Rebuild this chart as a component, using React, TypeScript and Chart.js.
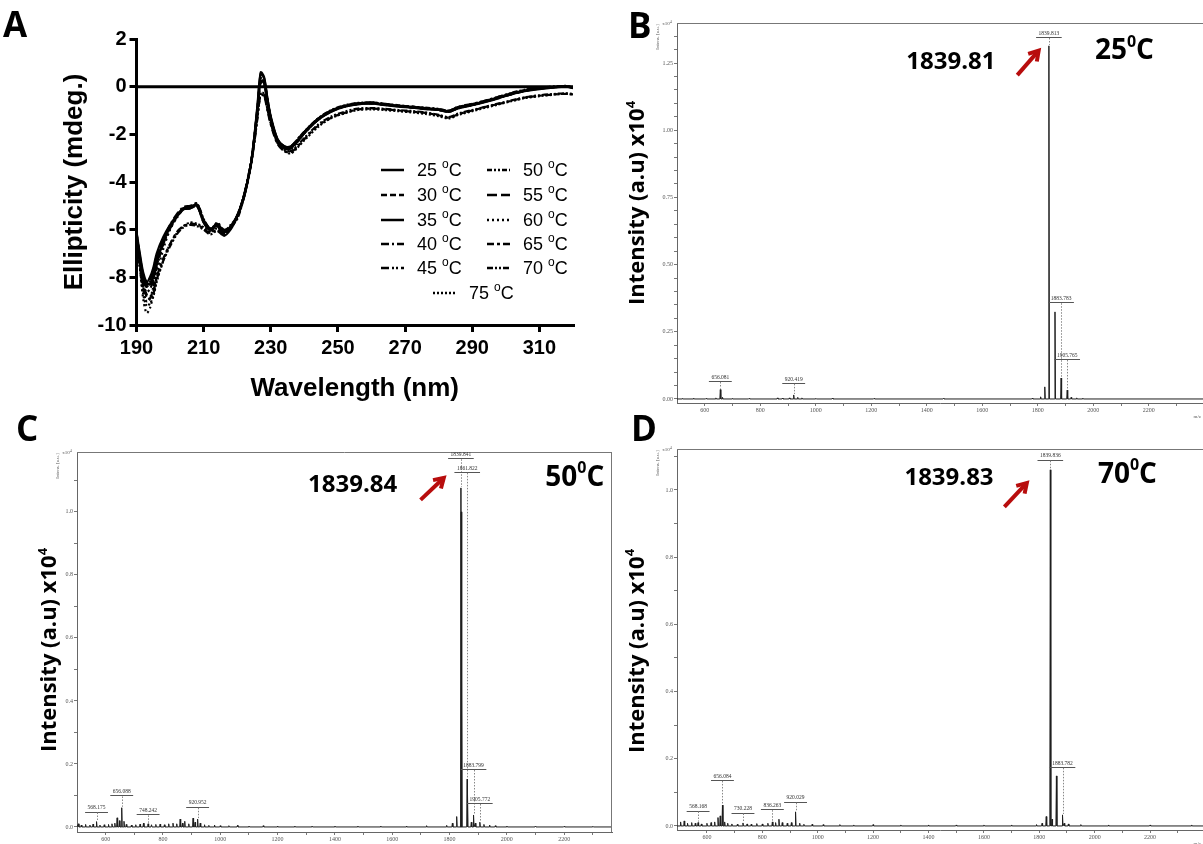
import React, { useEffect, useRef } from 'react';
import { Chart, registerables } from 'chart.js';

Chart.register(...registerables);

// ================= Panel A : CD spectra =================
const WAVELENGTH = [190,191,192,193,194,195,196,198,200,202,204,206,208,210,212,214,216,218,220,222,224,225,226,227,228,229,230,232,234,236,238,240,244,248,252,256,260,264,268,272,276,280,283,286,290,294,298,302,306,310,314,318,320];
const CD_TEMPS = ['25','30','35','40','45','50','55','60','65','70','75'];
const CD_25 = [-6.2,-7.1,-7.9,-8.2,-8.0,-7.6,-7.0,-6.3,-5.8,-5.4,-5.1,-5.1,-5.0,-5.7,-6.0,-5.8,-6.1,-5.9,-5.4,-4.6,-3.3,-2.2,-0.8,0.6,0.4,-0.5,-1.3,-2.2,-2.5,-2.5,-2.25,-1.9,-1.35,-1.0,-0.82,-0.7,-0.68,-0.76,-0.8,-0.86,-0.9,-0.95,-1.02,-0.86,-0.74,-0.6,-0.44,-0.27,-0.15,-0.07,-0.02,0.0,-0.04];
const CD_30 = [-6.3,-7.2,-8.0,-8.3,-8.1,-7.7,-7.1,-6.4,-5.85,-5.45,-5.15,-5.1,-4.95,-5.65,-6.05,-5.75,-6.05,-5.9,-5.45,-4.6,-3.3,-2.3,-1.0,0.3,0.2,-0.6,-1.35,-2.25,-2.55,-2.5,-2.2,-1.9,-1.35,-1.02,-0.8,-0.72,-0.7,-0.74,-0.82,-0.84,-0.92,-0.97,-1.05,-0.88,-0.76,-0.62,-0.46,-0.3,-0.17,-0.08,-0.03,0.02,-0.05];
const CD_35 = [-6.1,-7.0,-7.8,-8.2,-8.3,-8.0,-7.4,-6.5,-5.9,-5.45,-5.1,-5.05,-4.95,-5.6,-5.95,-5.85,-6.25,-6.0,-5.45,-4.65,-3.35,-2.25,-0.9,0.55,0.35,-0.5,-1.25,-2.2,-2.5,-2.55,-2.3,-1.95,-1.4,-1.05,-0.84,-0.74,-0.7,-0.78,-0.84,-0.88,-0.94,-0.98,-1.06,-0.9,-0.78,-0.64,-0.48,-0.3,-0.18,-0.1,-0.04,0.0,-0.02];
const CD_40 = [-6.2,-7.2,-8.1,-8.4,-8.2,-7.8,-7.2,-6.4,-5.8,-5.35,-5.05,-5.0,-4.9,-5.6,-6.1,-5.7,-6.0,-5.85,-5.4,-4.55,-3.25,-2.2,-0.95,0.25,0.15,-0.6,-1.35,-2.3,-2.6,-2.55,-2.25,-1.92,-1.38,-1.0,-0.8,-0.7,-0.66,-0.72,-0.8,-0.84,-0.9,-0.96,-1.0,-0.84,-0.72,-0.58,-0.42,-0.26,-0.13,-0.06,0.0,0.02,-0.03];
const CD_45 = [-6.4,-7.4,-8.3,-8.6,-8.5,-8.1,-7.5,-6.6,-5.95,-5.5,-5.15,-5.1,-5.0,-5.65,-6.0,-5.8,-6.15,-5.95,-5.45,-4.6,-3.3,-2.3,-1.05,0.2,0.1,-0.65,-1.4,-2.3,-2.6,-2.6,-2.3,-1.95,-1.4,-1.04,-0.84,-0.73,-0.7,-0.76,-0.82,-0.88,-0.92,-0.98,-1.04,-0.9,-0.77,-0.62,-0.47,-0.3,-0.16,-0.08,-0.03,0.0,-0.06];
const CD_50 = [-6.0,-7.3,-8.5,-9.0,-8.9,-8.4,-7.6,-6.6,-5.9,-5.4,-5.1,-5.05,-4.9,-5.55,-5.95,-5.75,-6.05,-5.9,-5.4,-4.6,-3.3,-2.25,-0.95,0.35,0.25,-0.55,-1.3,-2.25,-2.55,-2.5,-2.2,-1.88,-1.34,-0.98,-0.78,-0.68,-0.66,-0.72,-0.78,-0.84,-0.88,-0.93,-1.0,-0.84,-0.73,-0.58,-0.42,-0.25,-0.12,-0.05,0.0,0.03,-0.02];
const CD_55 = [-6.3,-7.3,-8.1,-8.4,-8.3,-7.9,-7.3,-6.5,-5.9,-5.45,-5.15,-5.1,-5.0,-5.7,-6.05,-5.8,-6.1,-5.9,-5.45,-4.6,-3.3,-2.3,-1.0,0.3,0.2,-0.6,-1.35,-2.25,-2.55,-2.55,-2.25,-1.9,-1.36,-1.02,-0.82,-0.72,-0.7,-0.76,-0.8,-0.86,-0.92,-0.96,-1.04,-0.88,-0.76,-0.62,-0.46,-0.29,-0.16,-0.08,-0.02,0.0,-0.04];
const CD_60 = [-6.0,-7.6,-8.9,-9.5,-9.3,-8.7,-7.9,-6.8,-6.0,-5.5,-5.15,-5.1,-5.0,-5.6,-6.0,-5.75,-6.1,-5.95,-5.45,-4.65,-3.35,-2.35,-1.1,0.15,0.05,-0.7,-1.4,-2.3,-2.6,-2.6,-2.3,-1.95,-1.4,-1.04,-0.82,-0.72,-0.7,-0.76,-0.82,-0.86,-0.92,-0.97,-1.05,-0.89,-0.77,-0.62,-0.46,-0.3,-0.16,-0.08,-0.02,0.0,-0.05];
const CD_65 = [-6.5,-7.4,-8.3,-8.7,-8.8,-8.6,-8.0,-7.2,-6.6,-6.1,-5.85,-5.75,-5.8,-5.95,-6.15,-6.0,-6.2,-5.85,-5.5,-4.6,-3.3,-2.4,-1.3,-0.35,-0.4,-1.0,-1.6,-2.4,-2.7,-2.75,-2.5,-2.2,-1.65,-1.3,-1.1,-0.95,-0.92,-0.95,-1.0,-1.05,-1.1,-1.2,-1.3,-1.15,-1.0,-0.85,-0.72,-0.58,-0.45,-0.38,-0.33,-0.3,-0.32];
const CD_70 = [-6.6,-7.5,-8.4,-8.8,-8.9,-8.7,-8.1,-7.3,-6.7,-6.2,-5.9,-5.8,-5.85,-6.0,-6.2,-6.05,-6.25,-5.9,-5.55,-4.65,-3.35,-2.45,-1.35,-0.3,-0.35,-0.95,-1.55,-2.35,-2.65,-2.7,-2.45,-2.15,-1.6,-1.25,-1.05,-0.92,-0.9,-0.93,-0.98,-1.02,-1.08,-1.18,-1.28,-1.12,-0.98,-0.84,-0.7,-0.56,-0.44,-0.36,-0.31,-0.28,-0.3];
const CD_75 = [-6.3,-7.6,-8.7,-9.2,-9.1,-8.8,-8.2,-7.3,-6.6,-6.15,-5.85,-5.7,-5.75,-5.9,-6.1,-5.95,-6.15,-5.8,-5.45,-4.55,-3.25,-2.35,-1.25,-0.25,-0.3,-0.9,-1.5,-2.35,-2.7,-2.8,-2.55,-2.25,-1.7,-1.32,-1.12,-0.98,-0.95,-0.98,-1.03,-1.08,-1.14,-1.24,-1.33,-1.18,-1.03,-0.88,-0.74,-0.6,-0.47,-0.4,-0.34,-0.3,-0.34];
const CD_SERIES = [CD_25, CD_30, CD_35, CD_40, CD_45, CD_50, CD_55, CD_60, CD_65, CD_70, CD_75];
const ZERO_X = [190, 320];
const ZERO_Y = [0, 0];
const A_X_TICKS = [190, 210, 230, 250, 270, 290, 310];
const A_Y_TICKS = [-10, -8, -6, -4, -2, 0, 2];

// line styles (not data)
const CD_DASH = [[], [6, 3], [], [8, 3, 2, 3], [8, 3, 2, 2, 2, 3], [5, 2, 2, 2, 2, 2], [10, 4], [2, 3], [7, 3, 3, 3], [6, 2, 2, 2, 2, 2], [2, 2]];
const CD_LEGEND_POS = [[381, 170], [381, 195], [381, 220], [381, 244], [381, 268], [487, 170], [487, 195], [487, 220], [487, 244], [487, 268], [433, 293]];

// ================= Mass spectra (B, C, D) =================
const MS_X_MAJOR = [600, 800, 1000, 1200, 1400, 1600, 1800, 2000, 2200];
const MS_X_MINOR = [700, 900, 1100, 1300, 1500, 1700, 1900, 2100, 2300];

const B_MZ = [520, 560, 605, 640, 656.1, 664, 700, 760, 862, 880, 905, 920.4, 935, 950, 1000, 1060, 1210, 1460, 1780, 1810, 1825, 1839.8, 1861.8, 1883.8, 1905.8, 1920, 1940, 1962];
const B_INT = [0.002, 0.003, 0.002, 0.004, 0.035, 0.006, 0.002, 0.002, 0.004, 0.003, 0.004, 0.015, 0.006, 0.004, 0.002, 0.003, 0.002, 0.002, 0.003, 0.008, 0.045, 1.314, 0.324, 0.078, 0.033, 0.006, 0.004, 0.003];
const B_Y_MAJOR = [0, 0.25, 0.5, 0.75, 1.0, 1.25];
const B_Y_MINOR = [0.05, 0.1, 0.15, 0.2, 0.3, 0.35, 0.4, 0.45, 0.55, 0.6, 0.65, 0.7, 0.8, 0.85, 0.9, 0.95, 1.05, 1.1, 1.15, 1.2, 1.3, 1.35];
const B_LABEL_TEXT = ['656.081', '920.419', '1839.813', '1883.783', '1905.765'];
const B_LABEL_MZ = [656.1, 920.4, 1839.8, 1883.8, 1905.8];
const B_LABEL_PEAK = [0.035, 0.015, 1.314, 0.078, 0.033];

const C_MZ = [505, 515, 530, 545, 556, 568.2, 580, 595, 610, 622, 632, 640, 648, 656.1, 664, 672, 690, 705, 720, 732, 748.2, 760, 775, 790, 805, 820, 835, 848, 860, 868, 876, 890, 905, 912, 920.9, 930, 945, 960, 980, 1000, 1030, 1060, 1100, 1150, 1200, 1260, 1320, 1400, 1480, 1560, 1650, 1720, 1790, 1810, 1825, 1839.8, 1840.8, 1841.8, 1861.8, 1862.8, 1876, 1883.8, 1890, 1905.8, 1920, 1940, 1960, 2000, 2100, 2200, 2300];
const C_INT = [0.010, 0.006, 0.008, 0.006, 0.009, 0.017, 0.006, 0.007, 0.008, 0.010, 0.012, 0.029, 0.020, 0.061, 0.018, 0.008, 0.006, 0.007, 0.009, 0.012, 0.010, 0.007, 0.008, 0.009, 0.007, 0.010, 0.012, 0.010, 0.025, 0.012, 0.018, 0.010, 0.028, 0.015, 0.025, 0.012, 0.007, 0.005, 0.006, 0.004, 0.004, 0.005, 0.003, 0.004, 0.003, 0.003, 0.003, 0.003, 0.003, 0.003, 0.003, 0.004, 0.005, 0.012, 0.033, 1.076, 1.0, 0.47, 0.152, 0.12, 0.015, 0.038, 0.012, 0.015, 0.008, 0.006, 0.004, 0.003, 0.003, 0.002, 0.002];
const CD_Y_MAJOR = [0, 0.2, 0.4, 0.6, 0.8, 1.0];
const CD_Y_MINOR = [0.1, 0.3, 0.5, 0.7, 0.9, 1.1];
const C_LABEL_TEXT = ['568.175', '656.088', '748.242', '920.952', '1839.841', '1861.822', '1883.799', '1905.772'];
const C_LABEL_MZ = [568.2, 656.1, 748.2, 920.9, 1839.8, 1861.8, 1883.8, 1905.8];
const C_LABEL_PEAK = [0.017, 0.061, 0.01, 0.025, 1.076, 0.152, 0.038, 0.015];

const D_MZ = [505, 518, 530, 545, 558, 568.2, 580, 600, 615, 628, 640, 648, 656.1, 664, 675, 690, 710, 730.2, 745, 760, 780, 800, 820, 836.3, 848, 860, 872, 890, 905, 920.0, 935, 950, 980, 1020, 1080, 1130, 1200, 1300, 1400, 1500, 1600, 1700, 1790, 1810, 1825, 1839.8, 1846, 1861.8, 1883.8, 1890, 1905, 1950, 2050, 2200, 2350];
const D_INT = [0.012, 0.015, 0.008, 0.010, 0.008, 0.010, 0.006, 0.008, 0.010, 0.012, 0.025, 0.030, 0.062, 0.012, 0.008, 0.006, 0.005, 0.009, 0.006, 0.005, 0.007, 0.006, 0.008, 0.012, 0.010, 0.020, 0.010, 0.008, 0.010, 0.042, 0.008, 0.005, 0.005, 0.004, 0.004, 0.003, 0.004, 0.003, 0.003, 0.003, 0.003, 0.003, 0.004, 0.008, 0.028, 1.06, 0.02, 0.149, 0.033, 0.008, 0.006, 0.004, 0.003, 0.003, 0.003];
const D_LABEL_TEXT = ['568.168', '656.084', '730.228', '836.263', '920.029', '1839.836', '1883.782'];
const D_LABEL_MZ = [568.2, 656.1, 730.2, 836.3, 920.0, 1839.8, 1883.8];
const D_LABEL_PEAK = [0.01, 0.062, 0.009, 0.012, 0.042, 1.06, 0.033];

const PEAK_HALF_WIDTH = 1.8;

// ================= helpers =================
function drawSup(ctx: any, main: string, sup: string, tail: string, x: number, y: number,
  font: (s: number) => string, size: number, supSize: number, rise: number, align: string) {
  ctx.font = font(size); const w1 = ctx.measureText(main).width;
  ctx.font = font(supSize); const w2 = ctx.measureText(sup).width;
  ctx.font = font(size); const w3 = ctx.measureText(tail).width;
  const sx = align === 'center' ? x - (w1 + w2 + w3) / 2 : x;
  ctx.textAlign = 'left';
  ctx.textBaseline = 'middle';
  ctx.font = font(size); ctx.fillText(main, sx, y);
  ctx.font = font(supSize); ctx.fillText(sup, sx + w1, y - rise);
  ctx.font = font(size); ctx.fillText(tail, sx + w1 + w2, y);
}

function drawArrow(ctx: any, x1: number, y1: number, x2: number, y2: number) {
  ctx.save();
  ctx.strokeStyle = '#b80d0d';
  ctx.lineWidth = 4;
  ctx.lineCap = 'butt';
  ctx.lineJoin = 'miter';
  const ang = Math.atan2(y2 - y1, x2 - x1);
  ctx.beginPath();
  ctx.moveTo(x1, y1);
  ctx.lineTo(x2 - 2 * Math.cos(ang), y2 - 2 * Math.sin(ang));
  ctx.stroke();
  const hl = 11;
  ctx.beginPath();
  ctx.moveTo(x2 - hl * Math.cos(ang - 0.55), y2 - hl * Math.sin(ang - 0.55));
  ctx.lineTo(x2, y2);
  ctx.lineTo(x2 - hl * Math.cos(ang + 0.55), y2 - hl * Math.sin(ang + 0.55));
  ctx.stroke();
  ctx.restore();
}

const bigFont = (s: number) => `bold ${s}px "Open Sans"`;

// ================= Panel A config =================
const cdLegendPlugin = {
  id: 'cdLegend',
  afterDraw(chart: any) {
    const ctx = chart.ctx;
    ctx.save();
    const items = chart.data.datasets.filter((d: any) => !d.isZero);
    items.forEach((d: any, i: number) => {
      const [lx, ly] = CD_LEGEND_POS[i];
      ctx.strokeStyle = '#000';
      ctx.lineWidth = 2.5;
      ctx.setLineDash(d.borderDash || []);
      ctx.beginPath();
      ctx.moveTo(lx, ly);
      ctx.lineTo(lx + 23, ly);
      ctx.stroke();
      ctx.setLineDash([]);
      ctx.fillStyle = '#000';
      drawSup(ctx, d.temp + ' ', 'o', 'C', lx + 36, ly + 1, (s) => `${s}px "Liberation Sans"`, 18, 12, 6, 'left');
    });
    // panel letter
    ctx.fillStyle = '#000';
    ctx.font = bigFont(35);
    ctx.textAlign = 'left';
    ctx.textBaseline = 'alphabetic';
    ctx.fillText('A', 3, 37);
    ctx.restore();
  },
};

function cdConfig(): any {
  const datasets: any[] = CD_SERIES.map((vals, i) => ({
    label: `${CD_TEMPS[i]} ºC`,
    temp: CD_TEMPS[i],
    data: vals.map((v, j) => ({ x: WAVELENGTH[j], y: v })),
    borderColor: '#000',
    borderWidth: 2.2,
    borderDash: CD_DASH[i],
    pointRadius: 0,
    tension: 0.3,
    fill: false,
  }));
  datasets.push({
    label: '',
    isZero: true,
    data: ZERO_X.map((x, i) => ({ x, y: ZERO_Y[i] })),
    borderColor: '#000',
    borderWidth: 3,
    pointRadius: 0,
    fill: false,
  });
  const tickFont = { family: 'Liberation Sans', weight: 'bold', size: 20 };
  const titleFont = { family: 'Liberation Sans', weight: 'bold', size: 26 };
  return {
    type: 'line',
    data: { datasets },
    options: {
      responsive: false,
      animation: false,
      events: [],
      layout: { padding: { left: 0, top: 39, right: 27, bottom: 0 } },
      plugins: { legend: { display: false }, tooltip: { enabled: false } },
      scales: {
        x: {
          type: 'linear', min: 190, max: 320,
          afterBuildTicks: (s: any) => { s.ticks = A_X_TICKS.map((v) => ({ value: v })); },
          afterFit: (s: any) => { s.height = 85; },
          ticks: { font: tickFont, color: '#000', padding: 4, maxRotation: 0, autoSkip: false },
          grid: { drawOnChartArea: false, drawTicks: true, tickLength: 7, lineWidth: 3, color: '#000' },
          border: { display: true, width: 3, color: '#000' },
          title: { display: true, text: 'Wavelength (nm)', font: titleFont, color: '#000', padding: { top: 0, bottom: 6 } },
        },
        y: {
          type: 'linear', min: -10, max: 2,
          afterBuildTicks: (s: any) => { s.ticks = A_Y_TICKS.map((v) => ({ value: v })); },
          afterFit: (s: any) => { s.width = 136.5; },
          ticks: { font: tickFont, color: '#000', padding: 3, autoSkip: false },
          grid: { drawOnChartArea: false, drawTicks: true, tickLength: 7, lineWidth: 3, color: '#000' },
          border: { display: true, width: 3, color: '#000' },
          title: { display: true, text: 'Ellipticity (mdeg.)', font: titleFont, color: '#000', padding: { top: 59, bottom: 0 } },
        },
      },
    },
    plugins: [cdLegendPlugin],
  };
}

// ================= Mass spectrum config =================
function spectrumPoints(mz: number[], h: number[], xMin: number, xMax: number) {
  const pts: any[] = [{ x: xMin, y: 0 }];
  mz.forEach((m, i) => {
    pts.push({ x: m - PEAK_HALF_WIDTH, y: 0 }, { x: m, y: h[i] }, { x: m + PEAK_HALF_WIDTH, y: 0 });
  });
  pts.push({ x: xMax, y: 0 });
  return pts;
}

function drawMS(chart: any, p: any) {
  const { ctx, chartArea: a } = chart;
  const xs = chart.scales.x;
  const ys = chart.scales.y;
  ctx.save();
  // frame
  ctx.strokeStyle = '#777';
  ctx.lineWidth = 1;
  ctx.beginPath();
  ctx.moveTo(a.left, a.top + 0.5);
  ctx.lineTo(a.right, a.top + 0.5);
  if (p.rightBorder) {
    ctx.moveTo(a.right - 0.5, a.top);
    ctx.lineTo(a.right - 0.5, a.bottom);
  }
  ctx.stroke();

  // peak labels
  p.labelText.forEach((t: string, i: number) => {
    const px = xs.getPixelForValue(p.labelMz[i]);
    const py = ys.getPixelForValue(p.labelY[i]);
    const pk = ys.getPixelForValue(p.labelPeak[i]);
    ctx.font = '5.5px "Liberation Serif"';
    ctx.fillStyle = '#333';
    ctx.textAlign = 'center';
    ctx.textBaseline = 'bottom';
    ctx.fillText(t, px, py - 1);
    const w = ctx.measureText(t).width + 5;
    ctx.strokeStyle = '#555';
    ctx.lineWidth = 1;
    ctx.beginPath();
    ctx.moveTo(px - w / 2, Math.round(py) + 0.5);
    ctx.lineTo(px + w / 2, Math.round(py) + 0.5);
    ctx.stroke();
    if (pk - py > 4) {
      ctx.setLineDash([1.5, 1.5]);
      ctx.strokeStyle = '#888';
      ctx.beginPath();
      ctx.moveTo(Math.round(px) + 0.5, py + 1);
      ctx.lineTo(Math.round(px) + 0.5, pk - 1);
      ctx.stroke();
      ctx.setLineDash([]);
    }
  });

  // tiny axis captions
  ctx.fillStyle = '#555';
  drawSup(ctx, 'x10', '4', '', a.left - 10, a.top + 1, (s) => `${s}px "Liberation Serif"`, 5, 4, 2, 'center');
  ctx.save();
  ctx.translate(a.left - 19, a.top + 14);
  ctx.rotate(-Math.PI / 2);
  ctx.font = '5px "Liberation Serif"';
  ctx.textAlign = 'center';
  ctx.textBaseline = 'middle';
  ctx.fillText('Intens. [a.u.]', 0, 0);
  ctx.restore();
  ctx.font = '5px "Liberation Serif"';
  ctx.textAlign = 'right';
  ctx.textBaseline = 'top';
  ctx.fillText('m/z', a.right - 2, a.bottom + 11);

  // big value text
  ctx.fillStyle = '#000';
  ctx.font = bigFont(24);
  ctx.textAlign = 'center';
  ctx.textBaseline = 'middle';
  ctx.fillText(p.mainText, xs.getPixelForValue(p.mainAt[0]), ys.getPixelForValue(p.mainAt[1]));
  // temperature
  drawSup(ctx, p.temp, '0', 'C', xs.getPixelForValue(p.tempAt[0]), ys.getPixelForValue(p.tempAt[1]), bigFont, 28, 16, 9, 'center');
  // arrow
  drawArrow(ctx, xs.getPixelForValue(p.arrow[0][0]), ys.getPixelForValue(p.arrow[0][1]),
    xs.getPixelForValue(p.arrow[1][0]), ys.getPixelForValue(p.arrow[1][1]));
  // panel letter
  ctx.fillStyle = '#000';
  ctx.font = bigFont(35);
  ctx.textAlign = 'left';
  ctx.textBaseline = 'alphabetic';
  ctx.fillText(p.letter, p.letterAt[0], p.letterAt[1]);
  // y title
  ctx.save();
  ctx.translate(p.titleAt[0], p.titleAt[1]);
  ctx.rotate(-Math.PI / 2);
  drawSup(ctx, 'Intensity (a.u) x10', '4', '', 0, 0, bigFont, 22, 13, 7, 'center');
  ctx.restore();
  ctx.restore();
}

function msConfig(p: any): any {
  const tickFont = { family: 'Liberation Serif', size: 6 };
  const xTicks = [...MS_X_MAJOR.map((v) => ({ value: v, isMajor: true })), ...MS_X_MINOR.map((v) => ({ value: v, isMajor: false }))].sort((a, b) => a.value - b.value);
  const yTicks = [...p.yMajor.map((v: number) => ({ value: v, isMajor: true })), ...p.yMinor.map((v: number) => ({ value: v, isMajor: false }))].sort((a: any, b: any) => a.value - b.value);
  return {
    type: 'line',
    data: {
      datasets: [{
        label: 'spectrum',
        data: spectrumPoints(p.mz, p.inten, p.xMin, p.xMax),
        borderColor: '#1e1e1e',
        borderWidth: 1,
        pointRadius: 0,
        tension: 0,
        fill: false,
      }],
    },
    options: {
      responsive: false,
      animation: false,
      events: [],
      layout: { padding: { left: 0, top: p.area.t, right: p.canvas.w - p.area.r, bottom: 0 } },
      plugins: { legend: { display: false }, tooltip: { enabled: false } },
      scales: {
        x: {
          type: 'linear', min: p.xMin, max: p.xMax,
          afterBuildTicks: (s: any) => { s.ticks = xTicks.map((t) => ({ ...t })); },
          afterFit: (s: any) => { s.height = p.canvas.h - p.area.b; },
          ticks: {
            font: tickFont, color: '#555', padding: 1, maxRotation: 0, autoSkip: false,
            callback: (v: number, i: number, t: any[]) => (t[i] && t[i].isMajor ? String(v) : ''),
          },
          grid: { drawOnChartArea: false, drawTicks: true, tickLength: 3, lineWidth: 1, color: '#777' },
          border: { display: true, width: 1, color: '#666' },
        },
        y: {
          type: 'linear', min: p.yMin, max: p.yMax,
          afterBuildTicks: (s: any) => { s.ticks = yTicks.map((t: any) => ({ ...t })); },
          afterFit: (s: any) => { s.width = p.area.l; },
          ticks: {
            font: tickFont, color: '#555', padding: 1, autoSkip: false,
            callback: (v: number, i: number, t: any[]) => (t[i] && t[i].isMajor ? v.toFixed(p.yDigits) : ''),
          },
          grid: { drawOnChartArea: false, drawTicks: true, tickLength: 3, lineWidth: 1, color: '#777' },
          border: { display: true, width: 1, color: '#666' },
        },
      },
    },
    plugins: [{ id: 'msAnnot', afterDraw: (chart: any) => drawMS(chart, p) }],
  };
}

const PANEL_B = {
  mz: B_MZ, inten: B_INT,
  xMin: 500, xMax: 2395, yMin: -0.015, yMax: 1.399,
  yMajor: B_Y_MAJOR, yMinor: B_Y_MINOR, yDigits: 2,
  canvas: { x: 600, y: 0, w: 603, h: 420 },
  area: { l: 77, t: 23, r: 603, b: 403 },
  labelText: B_LABEL_TEXT, labelMz: B_LABEL_MZ, labelPeak: B_LABEL_PEAK,
  labelY: [0.067, 0.06, 1.347, 0.36, 0.149],
  mainText: '1839.81', mainAt: [1487, 1.254],
  arrow: [[1726, 1.205], [1803, 1.296]],
  temp: '25', tempAt: [2112, 1.295],
  letter: 'B', letterAt: [28, 38],
  titleAt: [38, 203],
  rightBorder: false,
};

const PANEL_C = {
  mz: C_MZ, inten: C_INT,
  xMin: 500, xMax: 2367, yMin: -0.016, yMax: 1.19,
  yMajor: CD_Y_MAJOR, yMinor: CD_Y_MINOR, yDigits: 1,
  canvas: { x: 0, y: 410, w: 615, h: 434 },
  area: { l: 77, t: 42, r: 612, b: 422 },
  labelText: C_LABEL_TEXT, labelMz: C_LABEL_MZ, labelPeak: C_LABEL_PEAK,
  labelY: [0.049, 0.10, 0.04, 0.064, 1.17, 1.127, 0.184, 0.076],
  mainText: '1839.84', mainAt: [1462, 1.086],
  arrow: [[1699, 1.038], [1780, 1.108]],
  temp: '50', tempAt: [2237, 1.108],
  letter: 'C', letterAt: [16, 31],
  titleAt: [50, 240],
  rightBorder: true,
};

const PANEL_D = {
  mz: D_MZ, inten: D_INT,
  xMin: 492, xMax: 2391, yMin: -0.012, yMax: 1.122,
  yMajor: CD_Y_MAJOR, yMinor: CD_Y_MINOR, yDigits: 1,
  canvas: { x: 615, y: 410, w: 588, h: 434 },
  area: { l: 62, t: 39, r: 588, b: 420 },
  labelText: D_LABEL_TEXT, labelMz: D_LABEL_MZ, labelPeak: D_LABEL_PEAK,
  labelY: [0.046, 0.137, 0.04, 0.05, 0.072, 1.09, 0.176],
  mainText: '1839.83', mainAt: [1474, 1.036],
  arrow: [[1674, 0.95], [1755, 1.021]],
  temp: '70', tempAt: [2118, 1.045],
  letter: 'D', letterAt: [16, 31],
  titleAt: [22.5, 241],
  rightBorder: false,
};

// ================= components =================
function ChartCanvas(props: { x: number; y: number; w: number; h: number; make: () => any }) {
  const ref = useRef<HTMLCanvasElement>(null);
  useEffect(() => {
    const chart = new Chart(ref.current as HTMLCanvasElement, props.make());
    return () => chart.destroy();
  }, []);
  return (
    <canvas
      ref={ref}
      width={props.w}
      height={props.h}
      style={{ position: 'absolute', left: props.x, top: props.y, width: props.w, height: props.h }}
    />
  );
}

export default function App() {
  return (
    <div style={{ position: 'absolute', left: 0, top: 0, width: 1203, height: 844, background: '#fff', overflow: 'hidden' }}>
      <ChartCanvas x={0} y={0} w={600} h={410} make={cdConfig} />
      {[PANEL_B, PANEL_C, PANEL_D].map((p) => (
        <ChartCanvas key={p.letter} x={p.canvas.x} y={p.canvas.y} w={p.canvas.w} h={p.canvas.h} make={() => msConfig(p)} />
      ))}
    </div>
  );
}
